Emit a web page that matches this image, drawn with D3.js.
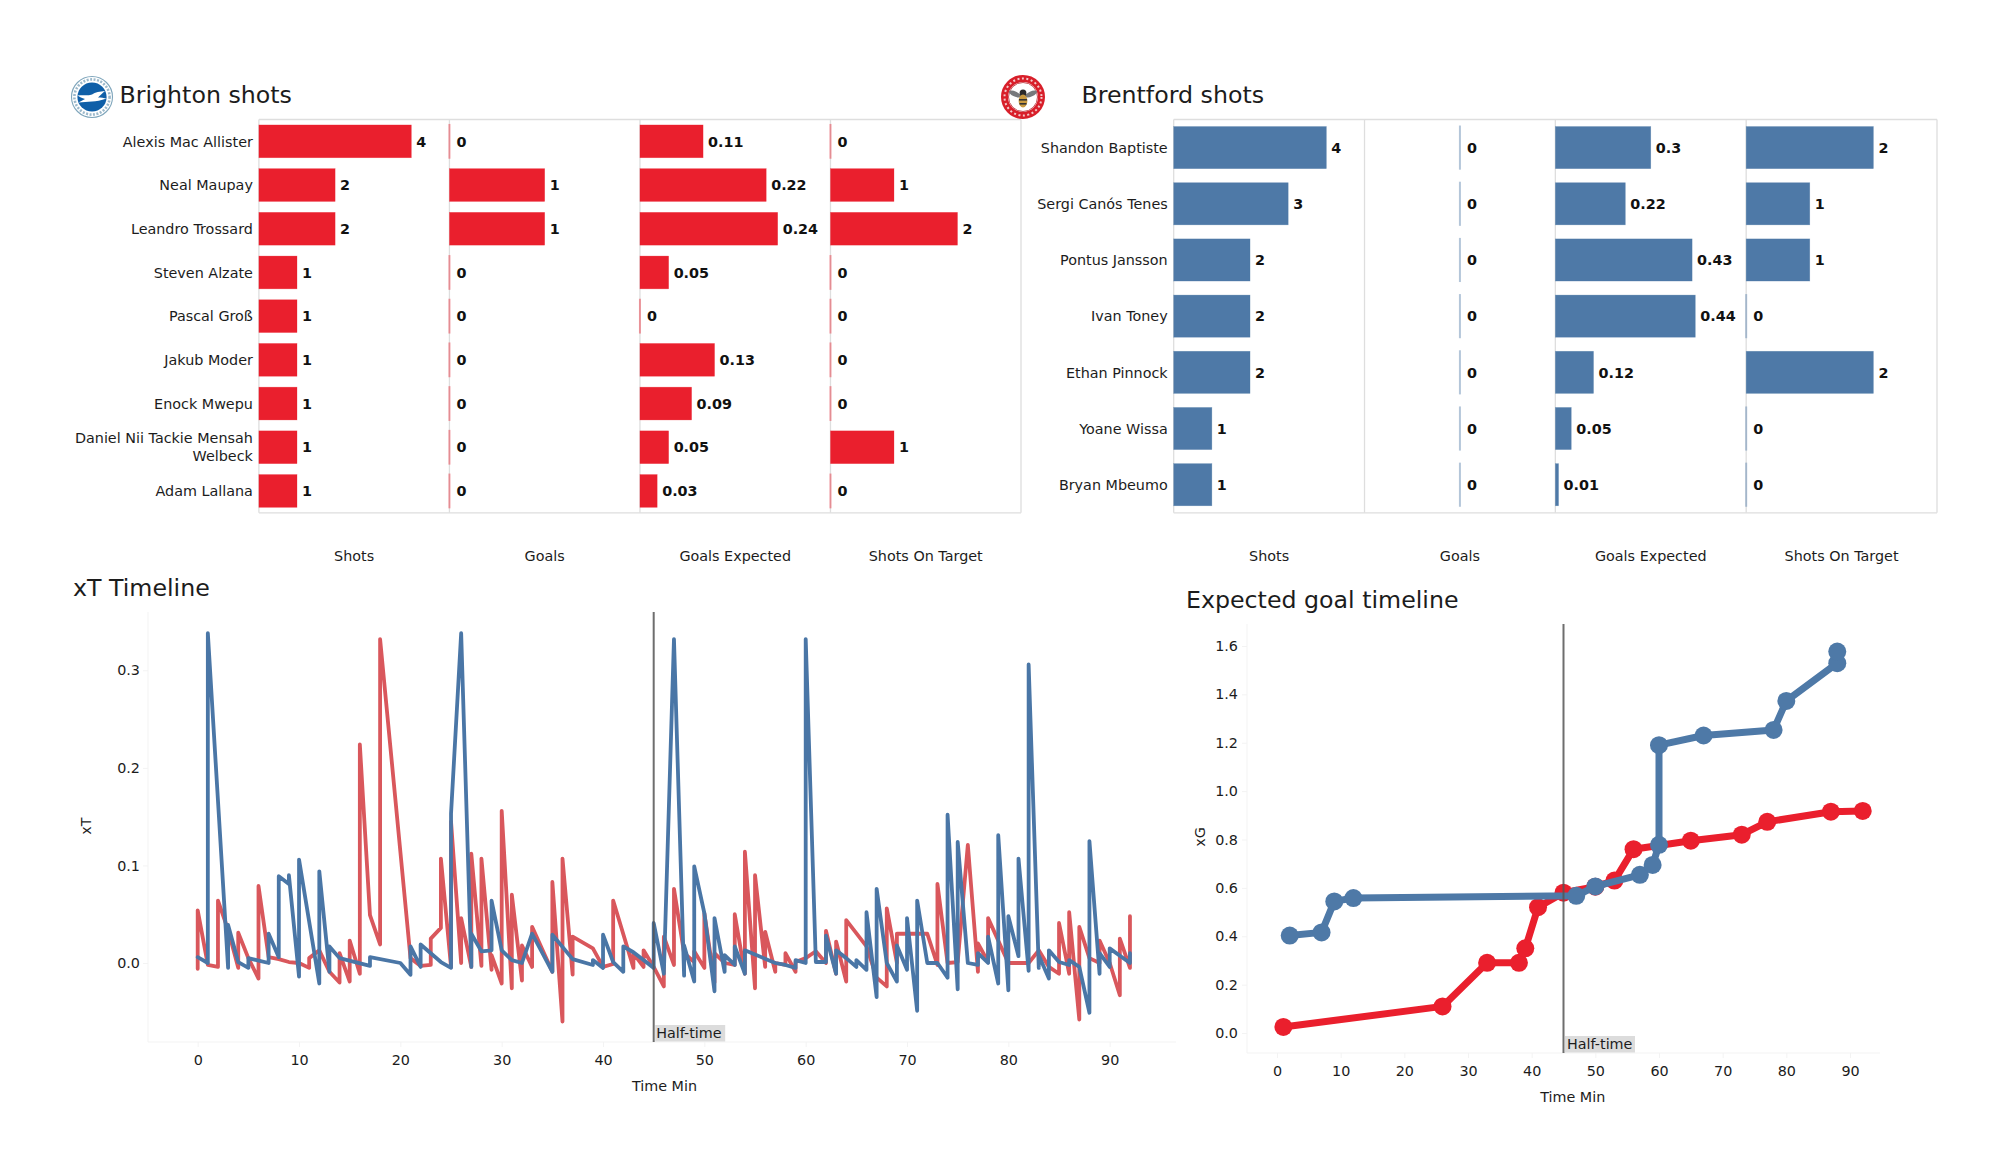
<!DOCTYPE html>
<html><head><meta charset="utf-8">
<script src="https://cdnjs.cloudflare.com/ajax/libs/d3/7.8.5/d3.min.js"></script>
<style>
html,body{margin:0;padding:0;background:#fff}
svg{display:block}
text{font-family:"DejaVu Sans",sans-serif;fill:#1c1c1c}
</style></head><body><svg id="c" width="2000" height="1175"></svg>
<script>
// ---------- data ----------
const shotMetrics = ["Shots","Goals","Goals Expected","Shots On Target"];
const brightonPlayers = ["Alexis Mac Allister","Neal Maupay","Leandro Trossard","Steven Alzate","Pascal Groß","Jakub Moder","Enock Mwepu","Daniel Nii Tackie Mensah\nWelbeck","Adam Lallana"];
const brightonShots = [4,2,2,1,1,1,1,1,1];
const brightonGoals = [0,1,1,0,0,0,0,0,0];
const brightonXG = [0.11,0.22,0.24,0.05,0,0.13,0.09,0.05,0.03];
const brightonSOT = [0,1,2,0,0,0,0,1,0];
const brentfordPlayers = ["Shandon Baptiste","Sergi Canós Tenes","Pontus Jansson","Ivan Toney","Ethan Pinnock","Yoane Wissa","Bryan Mbeumo"];
const brentfordShots = [4,3,2,2,2,1,1];
const brentfordGoals = [0,0,0,0,0,0,0];
const brentfordXG = [0.3,0.22,0.43,0.44,0.12,0.05,0.01];
const brentfordSOT = [2,1,1,0,2,0,0];
const leftDomains = [[0,5],[0,2],[0,0.332],[0,3]];
const rightDomains = [[0,5],[-1,1],[0,0.6],[0,3]];

const xtRedMin = [0,0,1,2,2,3,4,4,5,6,6,7,8,9,10,11,11,12,13,14,14,15,15,16,16,17,18,18,21,22,23,23,24,24,25,25,26,26,27,27,28,28,29,29,30,30,31,31,32,32,33,33,35,35,36,36,37,37,39,40,41,41,43,43,44,44,45,46,46,47,47,48,49,49,50,50,51,51,52,53,53,54,54,55,55,56,56,57,57,58,58,59,59,60,61,62,62,63,63,64,64,66,67,68,68,69,69,72,73,73,74,75,76,77,77,78,78,80,82,83,84,85,85,86,86,87,87,88,89,89,90,91,91,92,92];
const xtRedVal = [-.006,.054,-.002,-.004,.064,.034,-.005,.031,.005,-.016,.079,.006,.004,.001,0,-.005,.005,.013,-.009,-.020,.010,-.019,.023,-.011,.224,.049,.019,.332,.005,-.003,-.002,.025,.036,.107,-.004,.145,0,.046,-.004,.112,-.003,.107,-.007,.008,-.021,.156,-.026,.070,-.018,.018,-.004,.037,-.009,.083,-.060,.107,-.012,.027,.015,-.004,-.001,.064,-.005,.010,-.004,.013,-.004,-.024,.027,-.002,.076,.010,.001,.012,-.005,.051,-.020,.010,0,-.002,.050,-.011,.114,-.026,.090,-.004,.032,-.009,0,-.002,.010,-.009,.001,.005,.012,0,.033,-.011,.022,-.019,.044,.017,-.015,-.024,.056,0,.030,.030,-.002,.081,0,.001,.121,-.009,.020,.001,.046,0,0,.013,-.004,-.011,.041,-.011,.052,-.058,.037,.005,0,.023,0,-.033,.025,-.005,.048];
const xtBlueMin = [0,1,1,3,3,4,5,5,7,7,8,8,9,9,10,10,12,12,13,13,14,17,17,20,21,21,22,22,24,25,25,26,27,27,28,29,29,30,31,32,33,35,35,37,39,39,40,40,41,42,42,43,45,45,46,47,48,48,49,49,50,51,51,52,52,53,53,54,54,57,58,59,59,60,60,61,62,62,63,63,64,65,65,66,66,67,67,68,69,69,70,70,71,71,72,73,74,74,75,75,76,77,77,78,78,79,79,80,80,81,81,82,82,83,83,84,84,85,86,86,87,88,88,89,89,90,90,92,92];
const xtBlueVal = [.006,0,.338,-.005,.039,.001,-.005,.005,0,.030,.006,.089,.081,.090,-.014,.106,-.021,.094,-.009,.017,.005,-.003,.006,0,-.012,.017,-.004,.019,.001,-.005,.153,.338,-.004,.030,.012,.013,.064,.013,.003,0,.030,-.009,.029,.004,-.002,.003,-.005,.029,.001,-.009,.017,.011,-.005,.041,-.011,.332,-.013,.018,-.019,.099,.051,-.029,.046,-.009,.008,-.002,.017,-.011,.013,0,-.002,-.005,.003,0,.332,.001,.001,.028,-.011,.013,.005,-.004,.003,-.007,.052,-.035,.076,0,-.019,.018,-.007,.046,-.049,.064,0,0,-.015,.152,-.027,.124,0,-.002,.010,0,.027,-.021,.131,-.028,.048,.007,.107,-.008,.306,-.005,.008,-.016,.013,.001,-.002,.003,-.004,-.051,.125,-.011,.010,-.004,.015,0,.010];
const xtTicksX = [0,10,20,30,40,50,60,70,80,90];
const xtTicksY = [0,0.1,0.2,0.3];

const xgRedMin = [1,26,33,38,39,41,45,50,53,56,65,73,77,87,92];
const xgRedVal = [.025,.11,.29,.29,.35,.52,.58,.605,.63,.76,.795,.82,.873,.915,.918];
const xgBlueMin = [2,7,9,12,47,50,57,59,60,60,67,78,80,88,88];
const xgBlueVal = [.403,.416,.544,.558,.567,.606,.654,.695,.778,1.19,1.23,1.253,1.373,1.529,1.577];
const xgTicksX = [0,10,20,30,40,50,60,70,80,90];
const xgTicksY = [0,0.2,0.4,0.6,0.8,1.0,1.2,1.4,1.6];

const zip = (a,b)=>a.map((v,i)=>[v,b[i]]);
// ---------- styles ----------
const RED="#ea1f2d", BLUE="#4e79a7", XT_RED="#d9575c", XT_BLUE="#4a76a6", GRID="#dedede";
const FS=14.35, TITLE=23.7;
const svg=d3.select("#c");
const fmt=v=>String(v);

function barGroup(o){
  const g=svg.append("g");
  const y=d3.scaleBand().domain(o.players.map((p,i)=>i)).range([o.top,o.bottom]).paddingInner(0.25).paddingOuter(0.125);
  const w=(o.right-o.left)/4;
  const frame=g.append("g").attr("stroke",GRID).attr("stroke-width",1.3);
  frame.append("line").attr("x1",o.frameLeft).attr("x2",o.right).attr("y1",o.top).attr("y2",o.top);
  frame.append("line").attr("x1",o.left).attr("x2",o.right).attr("y1",o.bottom).attr("y2",o.bottom);
  d3.range(5).forEach(i=>frame.append("line").attr("x1",o.left+i*w).attr("x2",o.left+i*w).attr("y1",o.top).attr("y2",o.bottom));
  o.columns.forEach((vals,c)=>{
    const x0=o.left+c*w;
    const x=d3.scaleLinear().domain(o.domains[c]).range([x0,x0+w]);
    const col=g.append("g");
    col.selectAll("rect").data(vals).join("rect")
      .attr("x",x(0)).attr("y",(d,i)=>y(i)).attr("height",y.bandwidth())
      .attr("width",d=>Math.max(x(d)-x(0),0.01)).attr("fill",o.color)
      .attr("stroke",o.color).attr("stroke-width",d=>d===0?2:0.6).attr("stroke-opacity",d=>d===0?0.42:0.45);
    col.selectAll("text").data(vals).join("text")
      .attr("x",d=>x(d)+(d===0?7:5)).attr("y",(d,i)=>y(i)+y.bandwidth()/2).attr("dy","0.36em")
      .attr("font-size",FS).attr("font-weight","bold").style("fill","#111").text(fmt);
    g.append("text").attr("x",x0+w/2).attr("y",561).attr("text-anchor","middle").attr("font-size",FS).text(shotMetrics[c]);
  });
  o.players.forEach((p,i)=>{
    const lines=p.split("\n");
    lines.forEach((ln,k)=>{
      g.append("text").attr("x",o.left-6).attr("text-anchor","end").attr("font-size",FS)
       .attr("y",y(i)+y.bandwidth()/2+(k-(lines.length-1)/2)*18).attr("dy","0.36em").text(ln);
    });
  });
}
barGroup({players:brightonPlayers,columns:[brightonShots,brightonGoals,brightonXG,brightonSOT],domains:leftDomains,
  left:258.9,right:1021,frameLeft:258.9,top:119.5,bottom:512.8,color:RED});
barGroup({players:brentfordPlayers,columns:[brentfordShots,brentfordGoals,brentfordXG,brentfordSOT],domains:rightDomains,
  left:1173.7,right:1937,frameLeft:1173.7,top:119.5,bottom:512.8,color:BLUE});

const title=(t,x,y)=>svg.append("text").attr("x",x).attr("y",y).attr("font-size",TITLE).text(t);
title("Brighton shots",119.5,102.5);
title("Brentford shots",1081.5,102.5);
title("xT Timeline",73,596);
title("Expected goal timeline",1186,607.5);

function axes(g,x,y,o){
  const ax=d3.axisBottom(x).tickValues(o.tx).tickFormat(d3.format("d")).tickSize(5).tickPadding(o.xPad);
  const ay=d3.axisLeft(y).tickValues(o.ty).tickFormat(d3.format(".1f")).tickSize(5).tickPadding(o.yPad);
  const gx=g.append("g").attr("transform",`translate(0,${o.bottom})`).call(ax);
  const gy=g.append("g").attr("transform",`translate(${o.left},0)`).call(ay);
  [gx,gy].forEach(a=>{
    a.selectAll("path,line").attr("stroke","#f3f3f3");
    a.selectAll("text").attr("font-size",FS).attr("font-family",'"DejaVu Sans"').style("fill","#1c1c1c");
  });
  gx.select("path").attr("d",`M${x.range()[0]},0H${x.range()[1]}`);
  gy.select("path").attr("d",`M0,${y.range()[0]}V${y.range()[1]}`);
}
function halfTime(g,x,top,bottom,tx){
  g.append("line").attr("x1",x(45)).attr("x2",x(45)).attr("y1",top).attr("y2",bottom).attr("stroke","#555").attr("stroke-opacity",.85).attr("stroke-width",2);
  g.append("rect").attr("x",x(45)+1.5).attr("y",bottom-17).attr("width",70).attr("height",16.5).attr("fill","#dcdcdc");
  g.append("text").attr("x",x(45)+tx).attr("y",bottom-3.8).attr("font-size",FS).text("Half-time");
}

// xT timeline
{
  const g=svg.append("g");
  const left=148,right=1176,top=612,bottom=1042;
  const x=d3.scaleLinear().domain([0,90]).range([197.7,1109.7]);
  const y=d3.scaleLinear().domain([0,0.3]).range([963,670.3]);
  const full=d3.scaleLinear().domain([x.invert(left),x.invert(right)]).range([left,right]);
  const yf=d3.scaleLinear().domain([y.invert(bottom),y.invert(top)]).range([bottom,top]);
  axes(g,full,yf,{tx:xtTicksX,ty:xtTicksY,left,bottom,xPad:8,yPad:3});
  g.append("text").attr("transform",`translate(85.5,826) rotate(-90)`).attr("text-anchor","middle").attr("dy","0.36em").attr("font-size",FS).text("xT");
  g.append("text").attr("x",664.5).attr("y",1090.5).attr("text-anchor","middle").attr("font-size",FS).text("Time Min");
  const line=d3.line().x(d=>x(d[0])).y(d=>y(d[1])).curve(d3.curveLinear);
  const draw=(d,c)=>g.append("path").attr("d",line(d)).attr("fill","none").attr("stroke",c).attr("stroke-width",3.8).attr("stroke-linejoin","round").attr("stroke-linecap","round");
  draw(zip(xtRedMin,xtRedVal),XT_RED);
  draw(zip(xtBlueMin,xtBlueVal),XT_BLUE);
  halfTime(g,x,top,bottom,2.5);
}
// xG timeline
{
  const g=svg.append("g");
  const left=1247,right=1880,top=624,bottom=1053;
  const x=d3.scaleLinear().domain([0,90]).range([1277,1850]);
  const y=d3.scaleLinear().domain([0,1.6]).range([1033,646]);
  const full=d3.scaleLinear().domain([x.invert(left),x.invert(right)]).range([left,right]);
  const yf=d3.scaleLinear().domain([y.invert(bottom),y.invert(top)]).range([bottom,top]);
  axes(g,full,yf,{tx:xgTicksX,ty:xgTicksY,left,bottom,xPad:8,yPad:4});
  g.append("text").attr("transform",`translate(1200,837) rotate(-90)`).attr("text-anchor","middle").attr("dy","0.36em").attr("font-size",FS).text("xG");
  g.append("text").attr("x",1572.7).attr("y",1102).attr("text-anchor","middle").attr("font-size",FS).text("Time Min");
  const line=d3.line().x(d=>x(d[0])).y(d=>y(d[1]));
  const draw=(d,c)=>{
    g.append("path").attr("d",line(d)).attr("fill","none").attr("stroke",c).attr("stroke-width",7).attr("stroke-linejoin","round");
    g.append("g").selectAll("circle").data(d).join("circle").attr("cx",p=>x(p[0])).attr("cy",p=>y(p[1])).attr("r",9).attr("fill",c);
  };
  draw(zip(xgRedMin,xgRedVal),RED);
  draw(zip(xgBlueMin,xgBlueVal),BLUE);
  halfTime(g,x,top,bottom,3.5);
}

// crests (decorative)
{
  const g=svg.append("g").attr("transform","translate(92,97)");
  g.append("circle").attr("r",20.5).attr("fill","#fff").attr("stroke","#7fa6bc").attr("stroke-width",1.1);
  g.append("circle").attr("r",17.6).attr("fill","none").attr("stroke","#9db9cb").attr("stroke-width",2.6).attr("stroke-dasharray","2 1.5");
  g.append("circle").attr("r",14.6).attr("fill","#0f5fa8");
  g.append("path").attr("fill","#fff").attr("d","M-14.5,-1.5 C-8,-2.5 -3,-1 0,-2.5 C3,-5 8,-5.5 13,-6 C10,-3.5 8,-1.5 6,0.5 C9,0.5 12,1 14.5,1.5 C9,3.5 4,4.5 0,4.5 C-5,4.5 -9,5.5 -13.5,5.5 L-7,2 C-10,1 -12.5,0 -14.5,-1.5Z");
}
{
  const g=svg.append("g").attr("transform","translate(1023,97)");
  g.append("circle").attr("r",18.5).attr("fill","#fff").attr("stroke","#d81f2a").attr("stroke-width",7);
  g.append("circle").attr("r",18.5).attr("fill","none").attr("stroke","#f3c9cb").attr("stroke-width",2).attr("stroke-dasharray","2 2.5");
  g.append("circle").attr("r",14.5).attr("fill","#fff").attr("stroke","#b9242c").attr("stroke-width",0.8);
  g.append("ellipse").attr("cx",-8).attr("cy",-3).attr("rx",6.5).attr("ry",2.6).attr("fill","#77797c").attr("transform","rotate(25 -8 -3)");
  g.append("ellipse").attr("cx",8).attr("cy",-3).attr("rx",6.5).attr("ry",2.6).attr("fill","#77797c").attr("transform","rotate(-25 8 -3)");
  g.append("ellipse").attr("cy",-4).attr("rx",3.4).attr("ry",3.6).attr("fill","#2a2a2a");
  g.append("ellipse").attr("cy",4).attr("rx",4.4).attr("ry",6.5).attr("fill","#c99a3f");
  g.append("rect").attr("x",-4).attr("y",2).attr("width",8).attr("height",1.6).attr("fill","#333");
  g.append("rect").attr("x",-3.5).attr("y",6).attr("width",7).attr("height",1.6).attr("fill","#333");
}
</script></body></html>
